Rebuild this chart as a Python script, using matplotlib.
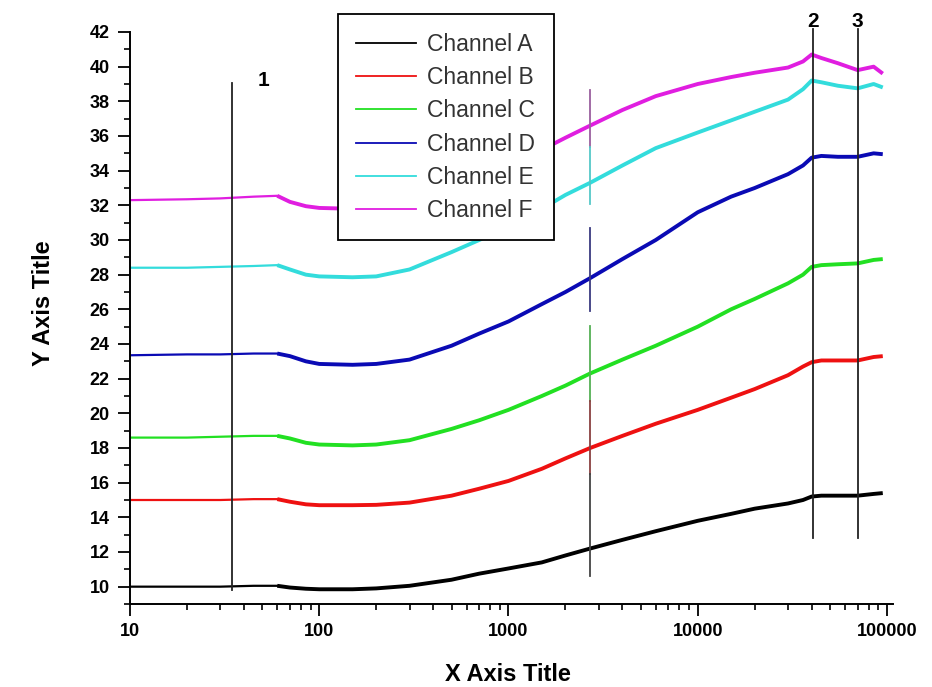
import matplotlib
matplotlib.use("Agg")
import matplotlib.pyplot as plt
from matplotlib.ticker import MultipleLocator, FixedLocator, LogLocator, NullFormatter

plt.rcParams['font.family'] = ['Liberation Sans', 'DejaVu Sans']

# data
x_vals = [10, 20, 30, 45, 60, 70, 85, 100, 150, 200, 300, 500, 700, 1000, 1500,
          2000, 2700, 4000, 6000, 10000, 15000, 20000, 30000, 36000, 40000,
          45000, 55000, 70000, 85000, 95000]

chan_a = [10.0, 10.0, 10.0, 10.05, 10.05, 9.95, 9.88, 9.85, 9.85, 9.9, 10.05, 10.4, 10.75, 11.05, 11.4,
          11.8, 12.2, 12.7, 13.2, 13.8, 14.2, 14.5, 14.8, 15.0, 15.2,
          15.25, 15.25, 15.25, 15.35, 15.4]
chan_b = [15.0, 15.0, 15.0, 15.05, 15.05, 14.9, 14.75, 14.7, 14.7, 14.72, 14.85, 15.25, 15.65, 16.1, 16.8,
          17.4, 18.0, 18.7, 19.4, 20.2, 20.9, 21.4, 22.2, 22.7, 22.95,
          23.05, 23.05, 23.05, 23.25, 23.3]
chan_c = [18.6, 18.6, 18.65, 18.7, 18.7, 18.55, 18.3, 18.2, 18.15, 18.2, 18.45, 19.1, 19.6, 20.2, 21.0,
          21.6, 22.3, 23.1, 23.9, 25.0, 26.0, 26.6, 27.5, 28.0, 28.45,
          28.55, 28.6, 28.65, 28.85, 28.9]
chan_d = [23.35, 23.4, 23.4, 23.45, 23.45, 23.3, 23.0, 22.85, 22.8, 22.85, 23.1, 23.9, 24.6, 25.3, 26.3,
          27.0, 27.8, 28.9, 30.0, 31.6, 32.5, 33.0, 33.8, 34.3, 34.75,
          34.85, 34.8, 34.8, 35.0, 34.95]
chan_e = [28.4, 28.4, 28.45, 28.5, 28.55, 28.3, 28.0, 27.9, 27.85, 27.9, 28.3, 29.3, 30.0, 30.8, 31.8,
          32.6, 33.3, 34.3, 35.3, 36.2, 36.9, 37.4, 38.1, 38.7, 39.2,
          39.1, 38.9, 38.75, 39.0, 38.8]
chan_f = [32.3, 32.35, 32.4, 32.5, 32.55, 32.2, 31.95, 31.85, 31.8, 31.8, 32.0, 32.7, 33.3, 34.1, 35.2,
          35.9, 36.6, 37.5, 38.3, 39.0, 39.4, 39.65, 39.95, 40.3, 40.7,
          40.5, 40.2, 39.8, 40.0, 39.6]

names = ['Channel A', 'Channel B', 'Channel C', 'Channel D', 'Channel E', 'Channel F']
series = [chan_a, chan_b, chan_c, chan_d, chan_e, chan_f]
colors = ['#000000', '#ee1111', '#22e022', '#0a0ab4', '#33dcdc', '#e01ee0']

# marker lines
line1_x, line1_y = 34.8, (9.8, 39.05)
line23_x = [40800, 70100]
line23_y = (12.8, 42.2)
mid_x = 2690
mid_segments = [(38.65, 35.35), (35.35, 32.1), (30.67, 25.9), (25.06, 20.7), (20.7, 16.5), (16.5, 10.6)]
mid_colors = ['#9a5f9e', '#55c8c8', '#3a3a80', '#55b055', '#8a4040', '#444444']

fig = plt.figure(figsize=(9.32, 6.87), dpi=100)
ax = fig.add_axes([130 / 932, 83 / 687, 763 / 932, 572 / 687])

for vals, name, col in zip(series, names, colors):
    # sparse early points look thin, dense later part looks thick
    thin_x = [x for x in x_vals if x <= 70]
    thin_y = vals[:len(thin_x)]
    ax.plot(thin_x, thin_y, color=col, lw=1.6)
    thick_x = [x for x in x_vals if x >= 60]
    thick_y = vals[len(x_vals) - len(thick_x):]
    ax.plot(thick_x, thick_y, color=col, lw=2.8, solid_capstyle='butt')

handles = [plt.Line2D([], [], color=c, lw=1.3) for c in colors]

ax.plot([line1_x, line1_x], line1_y, color='#222222', lw=1.3)
for xv in line23_x:
    ax.plot([xv, xv], line23_y, color='#222222', lw=1.3, clip_on=False)
for (y0, y1), c in zip(mid_segments, mid_colors):
    ax.plot([mid_x, mid_x], [y0, y1], color=c, lw=1.3)

ax.text(50.8, 39.2, '1', fontsize=15, fontweight='bold', ha='center', va='center')
ax.text(line23_x[0], 42.6, '2', fontsize=15, fontweight='bold', ha='center', va='center', clip_on=False)
ax.text(line23_x[1], 42.6, '3', fontsize=15, fontweight='bold', ha='center', va='center', clip_on=False)

ax.set_xscale('log')
ax.set_xlim(10, 107600)
ax.set_ylim(9, 42)

ax.xaxis.set_major_locator(FixedLocator([10, 100, 1000, 10000, 100000]))
ax.set_xticklabels(['10', '100', '1000', '10000', '100000'])
ax.xaxis.set_minor_locator(LogLocator(base=10, subs=range(2, 10)))
ax.xaxis.set_minor_formatter(NullFormatter())
ax.set_yticks(range(10, 43, 2))
ax.yaxis.set_minor_locator(MultipleLocator(1))

ax.tick_params(which='major', direction='out', length=8.5, width=1.3, labelsize=13, pad=5)
ax.tick_params(which='minor', direction='out', length=4.3, width=1.2)
ax.tick_params(axis='y', which='major', pad=6)
for lab in ax.get_xticklabels() + ax.get_yticklabels():
    lab.set_fontweight('bold')

for s in ['top', 'right']:
    ax.spines[s].set_visible(False)
for s in ['left', 'bottom']:
    ax.spines[s].set_linewidth(1.4)

ax.text(-0.114, 0.526, 'Y Axis Title', transform=ax.transAxes, rotation=90,
        ha='center', va='center', fontsize=17, fontweight='bold')
ax.text(0.495, -0.124, 'X Axis Title', transform=ax.transAxes,
        ha='center', va='center', fontsize=17, fontweight='bold')

leg = ax.legend(handles, names, loc='upper left', bbox_to_anchor=(0.2726, 1.031),
                borderaxespad=0, fontsize=16.5, frameon=True, fancybox=False,
                framealpha=1, edgecolor='black', handlelength=2.6, handletextpad=0.5,
                labelspacing=0.45, borderpad=0.8)
leg.set_zorder(10)
leg.get_frame().set_linewidth(1.3)
for t in leg.get_texts():
    t.set_color('#333333')

fig.savefig('out.png', dpi=100)
